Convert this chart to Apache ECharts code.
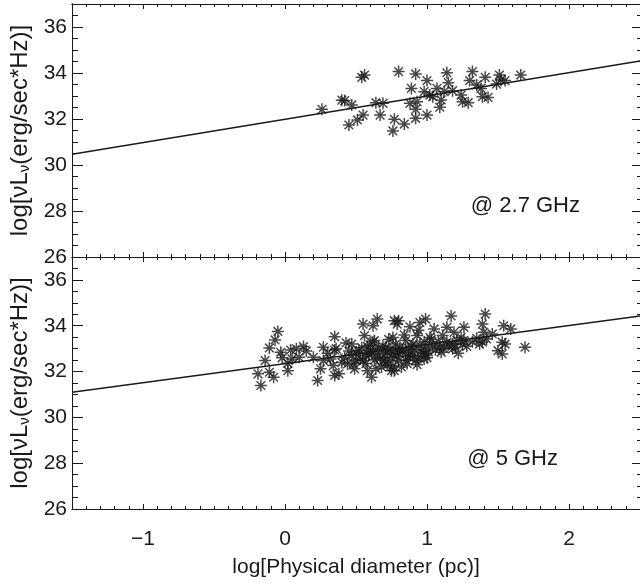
<!DOCTYPE html>
<html>
<head>
<meta charset="utf-8">
<script src="https://cdn.jsdelivr.net/npm/echarts@6/dist/echarts.min.js"></script>
<style>html,body{margin:0;padding:0;background:#fff}#c{width:640px;height:583px}</style>
</head>
<body>
<div id="c"></div>
<script>
// ---- data ----
var topX = [0.26,0.42,0.47,0.54,0.56,0.45,0.51,0.55,0.64,0.69,0.67,0.76,0.77,0.84,0.80,0.92,0.89,0.88,0.92,0.92,1.00,1.00,0.98,1.02,0.93,1.14,1.15,1.07,1.12,1.18,1.04,1.10,1.09,1.24,1.25,1.29,1.32,1.30,1.35,1.38,1.41,1.39,1.43,1.51,1.52,1.49,1.66,1.55,0.40];
var topY = [32.42,32.80,32.61,33.81,33.91,31.74,31.96,32.17,32.71,32.68,32.17,31.48,31.99,31.78,34.06,33.96,33.33,32.68,32.42,32.03,32.17,33.67,33.19,33.04,32.75,34.01,33.58,33.33,33.19,33.23,32.97,32.83,32.51,33.04,32.75,32.71,34.06,33.67,33.48,33.33,33.81,32.97,32.94,33.91,33.70,33.52,33.91,33.67,32.82];
var botX = [-0.19,-0.17,-0.11,-0.08,-0.14,-0.11,-0.05,-0.07,-0.03,0.02,0.02,0.04,0.08,0.13,0.10,0.20,0.23,0.27,0.27,0.25,0.35,0.35,0.35,0.38,0.34,0.47,0.47,0.49,0.44,0.55,0.56,0.52,0.58,0.55,0.61,0.62,0.65,0.63,0.61,0.65,0.64,0.71,0.70,0.75,0.77,0.76,0.76,
  0.79,0.80,0.95,0.99,1.17,1.41,1.05,1.14,1.26,1.39,1.54,1.59,1.40,1.46,1.19,1.24,1.11,1.02,0.93,0.85,1.39,1.42,1.53,1.55,1.50,1.53,1.69,1.37,1.25,1.18,1.09,1.04,0.99,0.90,1.10,0.98,0.92,0.99,0.83,0.78,0.80,0.77,0.88,1.18,1.21,1.26,1.14,
  0.60,0.66,0.70,0.72,0.75,0.80,0.82,0.85,0.87,0.90,0.93,0.96,1.00,0.68,0.57,0.50,0.45,0.40,0.62,0.73,0.84,0.94,0.88,0.58,0.78,0.98,
  0.30,0.32,0.36,0.42,0.43,0.48,0.50,0.53,0.54,0.57,0.59,0.60,0.63,0.64,0.67,0.69,0.71,0.72,0.74,0.76,0.79,0.81,0.83,0.86,0.87,0.89,0.91,0.94,0.95,0.97,1.01,1.03,1.06,1.08,1.12,1.15,1.20,1.22,1.28,1.32,1.35,0.15,0.05,-0.02];
var botY = [31.90,31.39,31.97,31.75,32.48,33.03,33.75,33.38,32.84,32.36,32.04,32.94,32.99,33.09,32.62,32.62,31.61,33.06,32.48,32.12,33.52,32.94,31.83,31.90,32.26,33.20,32.70,32.12,32.33,34.07,33.57,32.91,32.04,32.48,31.75,34.00,34.29,33.35,32.77,32.62,32.12,33.06,32.48,32.04,34.22,33.49,32.77,
  34.07,34.22,34.14,34.29,34.43,34.51,33.86,33.93,33.93,34.07,34.00,33.86,33.71,33.64,33.71,33.49,33.57,33.49,33.57,33.35,33.28,33.42,33.28,33.20,32.91,32.77,33.06,33.20,33.20,33.20,33.06,33.13,33.06,33.20,32.84,32.55,32.48,32.77,32.91,33.20,32.48,32.04,32.70,32.99,33.35,33.35,33.28,
  32.90,33.00,32.75,32.30,32.60,32.80,32.20,32.50,33.00,32.70,32.30,32.90,32.60,32.20,32.70,32.50,32.90,32.40,33.30,33.40,33.60,33.80,33.95,33.10,32.95,33.30,
  32.80,32.55,33.00,32.60,33.25,32.35,32.85,32.55,33.05,32.35,32.75,33.15,32.50,32.95,32.60,33.10,32.40,32.85,32.95,32.25,32.65,33.05,32.85,32.35,32.65,33.10,32.95,32.60,33.15,32.80,32.85,33.40,32.95,33.30,33.00,33.15,33.05,32.80,33.10,33.30,33.45,32.90,32.55,32.60];
var fitX = [-1.5, 2.5];
var fitTop = [30.47, 34.52];
var fitBot = [31.10, 34.43];
var xMajor = [-1, 0, 1, 2];
var yMajor = [26, 28, 30, 32, 34, 36];
var panelLabels = ['@ 2.7 GHz', '@ 5 GHz'];
var xTitle = 'log[Physical diameter (pc)]';

// ---- axis helpers ----
var xMinor = [], yMinor = [];
for (var i = -15; i <= 25; i++) xMinor.push(i / 10);
for (var j = 52; j <= 74; j++) yMinor.push(j / 2);

var FONT = 'Liberation Sans';
var INK = '#1a1a1a';
var lineSt = {color: INK, width: 1};

function fmt(v) { return v < 0 ? '\u2212' + Math.abs(v) : String(v); }

function xAx(g, pos, vals, len, labels) {
  var a = {
    gridIndex: g, type: 'value', min: -1.5, max: 2.5, position: pos,
    axisLine: {show: true, onZero: false, lineStyle: lineSt},
    axisTick: {show: true, inside: true, length: len, customValues: vals, lineStyle: lineSt},
    axisLabel: {show: !!labels, customValues: xMajor, formatter: fmt, fontFamily: FONT, fontSize: 21, color: INK, margin: 20},
    splitLine: {show: false}
  };
  if (labels) {
    a.name = xTitle; a.nameLocation = 'middle'; a.nameGap = 48;
    a.nameTextStyle = {fontFamily: FONT, fontSize: 21, color: INK};
  }
  return a;
}
function yAx(g, pos, vals, len, labels) {
  var a = {
    gridIndex: g, type: 'value', min: 26, max: 37, position: pos,
    axisLine: {show: true, onZero: false, lineStyle: lineSt},
    axisTick: {show: true, inside: true, length: len, customValues: vals, lineStyle: lineSt},
    axisLabel: {show: !!labels, customValues: yMajor, fontFamily: FONT, fontSize: 21, color: INK, margin: 5},
    splitLine: {show: false}
  };
  if (labels) {
    a.name = 'log[\u03bdL{s|\u03bd}(erg/sec*Hz)]';
    a.nameLocation = 'middle'; a.nameRotate = 90; a.nameGap = 35;
    a.nameTextStyle = {fontFamily: FONT, fontSize: 24, color: INK,
      rich: {s: {fontFamily: FONT, fontSize: 15, color: INK, padding: [10, 0, 0, 0]}}};
  }
  return a;
}

var xAxes = [], yAxes = [];
[0, 1].forEach(function (g) {
  xAxes.push(xAx(g, 'bottom', xMajor, 5, g === 1));
  xAxes.push(xAx(g, 'bottom', xMinor, 3, false));
  xAxes.push(xAx(g, 'top', xMajor, 5, false));
  xAxes.push(xAx(g, 'top', xMinor, 3, false));
  yAxes.push(yAx(g, 'left', yMajor, 11, true));
  yAxes.push(yAx(g, 'left', yMinor, 6, false));
  yAxes.push(yAx(g, 'right', yMajor, 8, false));
  yAxes.push(yAx(g, 'right', yMinor, 3, false));
});

function pairs(xs, ys) { return xs.map(function (x, k) { return [x, ys[k]]; }); }

var star = 'path://M0,-1L0,1M-1,0L1,0M-0.72,-0.72L0.72,0.72M-0.72,0.72L0.72,-0.72';
function scat(g, xs, ys) {
  return {type: 'scatter', xAxisIndex: g * 4, yAxisIndex: g * 4, data: pairs(xs, ys),
    symbol: star, symbolSize: 12, silent: true,
    itemStyle: {color: 'rgba(0,0,0,0)', borderColor: INK, borderWidth: 1.5}, z: 3};
}
function fit(g, ys) {
  return {type: 'line', xAxisIndex: g * 4, yAxisIndex: g * 4, data: pairs(fitX, ys),
    showSymbol: false, silent: true, clip: true, lineStyle: {color: INK, width: 1.5}, z: 2};
}

var chart = echarts.init(document.getElementById('c'), null, {renderer: 'canvas'});
chart.setOption({
  animation: false,
  backgroundColor: '#fff',
  grid: [
    {left: 72, top: 4, width: 572, height: 253},
    {left: 72, top: 257, width: 572, height: 252}
  ],
  xAxis: xAxes,
  yAxis: yAxes,
  series: [scat(0, topX, topY), fit(0, fitTop), scat(1, botX, botY), fit(1, fitBot)],
  graphic: [
    {type: 'text', x: 580, y: 206, style: {text: panelLabels[0], fontFamily: FONT, fontSize: 22, fill: INK, align: 'right', verticalAlign: 'middle'}},
    {type: 'text', x: 558, y: 459, style: {text: panelLabels[1], fontFamily: FONT, fontSize: 22, fill: INK, align: 'right', verticalAlign: 'middle'}}
  ]
});
</script>
</body>
</html>
